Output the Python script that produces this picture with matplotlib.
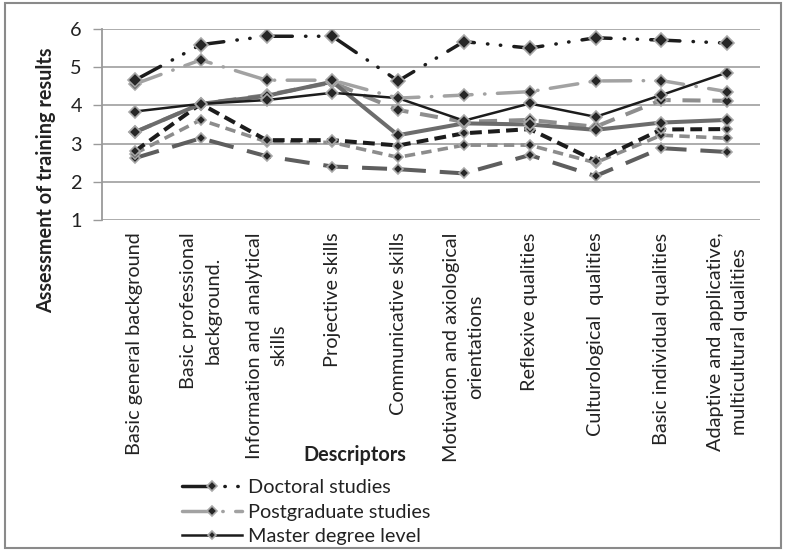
import numpy as np
import matplotlib.pyplot as plt
from matplotlib.patches import Rectangle

plt.rcParams['font.family'] = ['Lato', 'DejaVu Sans']
plt.rcParams['lines.scale_dashes'] = False

descriptors = ['Basic general background',
               'Basic professional\nbackground.',
               'Information and analytical\nskills',
               'Projective skills',
               'Communicative skills',
               'Motivation and axiological\norientations',
               'Reflexive qualities',
               'Culturological  qualities',
               'Basic individual qualities',
               'Adaptive and applicative,\nmulticultural qualities']

# three named series shown in the legend
doctoral = [4.66, 5.59, 5.81, 5.81, 4.64, 5.67, 5.50, 5.77, 5.71, 5.63]
postgraduate = [4.56, 5.19, 4.66, 4.66, 4.19, 4.27, 4.36, 4.64, 4.65, 4.36]
master = [3.84, 4.04, 4.14, 4.33, 4.19, 3.60, 4.05, 3.70, 4.27, 4.86]

# remaining series (their legend entries fall outside the chart area)
gray_solid = [3.30, 4.04, 4.25, 4.62, 3.22, 3.53, 3.50, 3.36, 3.55, 3.62]
gray_long_dash = [3.30, 4.04, 4.27, 4.60, 3.88, 3.57, 3.62, 3.44, 4.14, 4.12]
black_dash = [2.80, 4.04, 3.09, 3.09, 2.95, 3.27, 3.38, 2.55, 3.37, 3.38]
gray_dash = [2.74, 3.62, 3.05, 3.03, 2.64, 2.96, 2.96, 2.50, 3.22, 3.14]
dark_long_dash = [2.62, 3.14, 2.67, 2.40, 2.33, 2.22, 2.70, 2.15, 2.88, 2.78]

fs = 14.3

fig = plt.figure(figsize=(7.85, 5.51), dpi=100)
ax = fig.add_axes([102 / 785, 1 - 220 / 551, 658 / 785, 191 / 551])
x = np.arange(len(descriptors))

mk = dict(marker='D', markerfacecolor='#262626', markeredgecolor='#a8a8a8',
          markeredgewidth=1.2)

ax.plot(x, dark_long_dash, color='#5e5e5e', lw=2.9,
        linestyle=(0, (18, 10)), markersize=5.5, **mk)
ax.plot(x, gray_dash, color='#8c8c8c', lw=2.6,
        linestyle=(0, (7.5, 4.5)), markersize=5.5, **mk)
ax.plot(x, black_dash, color='#1c1c1c', lw=2.9,
        linestyle=(0, (8.5, 4.5)), markersize=5.5, **mk)
ax.plot(x, gray_long_dash, color='#8e8e8e', lw=2.9,
        linestyle=(0, (13, 8.5)), markersize=6, **mk)
ax.plot(x, gray_solid, color='#6c6c6c', lw=2.9, markersize=6, **mk)

l_master, = ax.plot(x, master, color='#1c1c1c', lw=1.8, markersize=6, **mk,
                    label='Master degree level')
l_post, = ax.plot(x, postgraduate, color='#a2a2a2', lw=2.5,
                  linestyle=(0, (20, 9, 0.3, 9)), dash_capstyle='round',
                  markersize=6.5, **mk, label='Postgraduate studies')
l_doc, = ax.plot(x, doctoral, color='#1c1c1c', lw=2.5,
                 linestyle=(0, (21, 9.5, 0.3, 9, 0.3, 9.5)),
                 dash_capstyle='round', markersize=7, **mk,
                 label='Doctoral studies')

ax.set_xlim(-0.5, len(descriptors) - 0.5)
ax.set_ylim(1, 6)
ax.set_yticks([1, 2, 3, 4, 5, 6])
ax.set_xticks(x)
ax.set_xticklabels(descriptors, rotation=90, ha='center', va='top',
                   multialignment='center', linespacing=1.5,
                   fontsize=fs, color='#222222')
ax.tick_params(axis='x', length=0, pad=9)
ax.tick_params(axis='y', length=6.5, width=1, color='#9a9a9a', pad=8,
               labelsize=fs, labelcolor='#222222')
ax.grid(axis='y', color='#a6a6a6', lw=1.3)
ax.set_axisbelow(True)
for side in ['top', 'right', 'bottom']:
    ax.spines[side].set_visible(False)
ax.spines['left'].set_color('#9a9a9a')
ax.spines['left'].set_linewidth(1.3)

fig.text(46 / 785, 1 - 180 / 551, 'Assessment of training results',
         rotation=90, ha='center', va='center', fontsize=fs,
         fontweight='bold', color='#222222')
fig.text(355 / 785, 1 - 455 / 551, 'Descriptors', ha='center', va='center',
         fontsize=fs, fontweight='bold', color='#222222')

leg = fig.legend(handles=[l_doc, l_post, l_master], loc='upper left',
                 bbox_to_anchor=(182 / 785, 1 - 479 / 551), frameon=False,
                 fontsize=fs, handlelength=3.0, handletextpad=0.3,
                 labelspacing=0.38, borderpad=0, borderaxespad=0,
                 markerscale=0.75)
for t in leg.get_texts():
    t.set_color('#222222')

fig.patches.append(Rectangle((5 / 785, 3 / 551), 776 / 785, 545 / 551,
                             transform=fig.transFigure, fill=False,
                             edgecolor='#8a8a8a', lw=1.5))

fig.savefig('out.png', dpi=100)
